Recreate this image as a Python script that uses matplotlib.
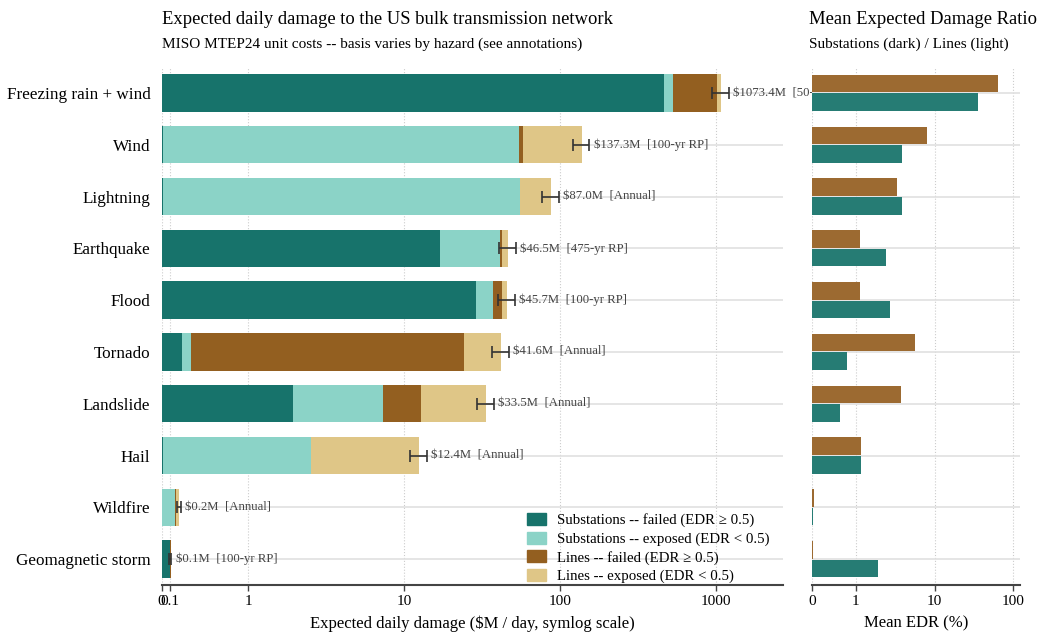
import matplotlib
matplotlib.use("Agg")
import matplotlib.pyplot as plt
from matplotlib.patches import Patch
import numpy as np

plt.rcParams['font.family'] = ['Liberation Serif', 'DejaVu Serif']

hazards = ["Freezing rain + wind", "Wind", "Lightning", "Earthquake", "Flood",
           "Tornado", "Landslide", "Hail", "Wildfire", "Geomagnetic storm"]

# $M / day, per component
sub_failed = [464.0, 0.01, 0.01, 16.9, 28.7, 0.23, 1.93, 0.01, 0.0, 0.10]
sub_exposed = [67.0, 54.3, 54.9, 24.1, 8.2, 0.11, 5.36, 2.51, 0.155, 0.0]
line_failed = [485.0, 3.1, 0.6, 1.7, 5.8, 23.9, 5.5, 0.0, 0.008, 0.002]
line_exposed = [57.4, 79.9, 31.5, 3.8, 3.0, 17.36, 20.71, 9.88, 0.037, 0.005]
totals = [1073.4, 137.3, 87.0, 46.5, 45.7, 41.6, 33.5, 12.4, 0.2, 0.1]
errors = [130, 17, 11, 5.8, 5.7, 5.2, 4.2, 1.55, 0.025, 0.013]
basis = ["50-yr RP", "100-yr RP", "Annual", "475-yr RP", "100-yr RP",
         "Annual", "Annual", "Annual", "Annual", "100-yr RP"]

# mean EDR (%)
edr_lines = [64.5, 8.1, 3.3, 1.14, 1.14, 5.6, 3.8, 1.17, 0.05, 0.015]
edr_subs = [36.0, 3.85, 3.85, 2.4, 2.7, 0.81, 0.63, 1.17, 0.02, 1.92]

c_sf = "#17736b"
c_se = "#8bd3c7"
c_lf = "#935f20"
c_le = "#dfc687"
labels = ["Substations -- failed (EDR \u2265 0.5)",
          "Substations -- exposed (EDR < 0.5)",
          "Lines -- failed (EDR \u2265 0.5)",
          "Lines -- exposed (EDR < 0.5)"]

fig = plt.figure(figsize=(10.43, 6.38), dpi=100)
ax = fig.add_axes([0.155, 0.083, 0.596, 0.812])
ax2 = fig.add_axes([0.7785, 0.083, 0.199, 0.812])

y = np.arange(len(hazards))
h = 0.72
left = np.zeros(len(hazards))
for vals, col in zip([sub_failed, sub_exposed, line_failed, line_exposed], [c_sf, c_se, c_lf, c_le]):
    ax.barh(y, vals, left=left, height=h, color=col, edgecolor='none', zorder=2)
    left = left + np.array(vals)

ax.errorbar(totals, y, xerr=errors, fmt='none', ecolor='#333333', elinewidth=1.2,
            capsize=4, capthick=1.2, zorder=3)
for i in range(len(hazards)):
    ax.annotate(f"${totals[i]:.1f}M  [{basis[i]}]", xy=(totals[i] + errors[i], y[i]),
                xytext=(3, 0), textcoords='offset points', va='center', ha='left',
                fontsize=9.2, color='#444444', zorder=4, annotation_clip=False)

ax.set_xscale('symlog', linthresh=1, linscale=0.5)
ax.set_xlim(0, 2700)
ax.set_ylim(9.5, -0.5)
ax.set_xticks([0, 0.1, 1, 10, 100, 1000])
ax.set_xticklabels(["0", "0.1", "1", "10", "100", "1000"])
ax.xaxis.set_minor_locator(matplotlib.ticker.NullLocator())
ax.set_yticks(y)
ax.set_yticklabels(hazards, fontsize=12.3)
ax.tick_params(axis='y', length=0, pad=8)
ax.tick_params(axis='x', labelsize=11, length=4, width=1, color='#444444')
ax.set_xlabel("Expected daily damage ($M / day, symlog scale)", fontsize=12, labelpad=5)
ax.xaxis.grid(True, linestyle=':', color='#cccccc', linewidth=0.8)
ax.yaxis.grid(True, linestyle='-', color='#e0e0e0', linewidth=1.2)
ax.set_axisbelow(True)
for s in ['top', 'right', 'left']:
    ax.spines[s].set_visible(False)
ax.spines['bottom'].set_color('#444444')
ax.spines['bottom'].set_linewidth(1.5)

handles = [Patch(color=c) for c in [c_sf, c_se, c_lf, c_le]]
ax.legend(handles, labels, loc='lower right', bbox_to_anchor=(0.987, -0.008), frameon=False,
          fontsize=10.7, handlelength=1.3, handleheight=0.9, labelspacing=0.28,
          handletextpad=0.7, borderaxespad=0.0)

# right panel
bh = 0.34
ax2.barh(y - 0.18, edr_lines, height=bh, color="#9c6a31", edgecolor='none', zorder=2)
ax2.barh(y + 0.18, edr_subs, height=bh, color="#267c74", edgecolor='none', zorder=2)
ax2.set_xscale('symlog', linthresh=1, linscale=0.5)
ax2.set_xlim(0, 120)
ax2.set_ylim(9.5, -0.5)
ax2.set_xticks([0, 1, 10, 100])
ax2.set_xticklabels(["0", "1", "10", "100"])
ax2.xaxis.set_minor_locator(matplotlib.ticker.NullLocator())
ax2.set_yticks(y)
ax2.set_yticklabels([])
ax2.tick_params(axis='y', length=0)
ax2.tick_params(axis='x', labelsize=11, length=4, width=1, color='#444444')
ax2.set_xlabel("Mean EDR (%)", fontsize=12, labelpad=5)
ax2.xaxis.grid(True, linestyle=':', color='#cccccc', linewidth=0.8)
ax2.yaxis.grid(True, linestyle='-', color='#e0e0e0', linewidth=1.2)
ax2.set_axisbelow(True)
for s in ['top', 'right', 'left']:
    ax2.spines[s].set_visible(False)
ax2.spines['bottom'].set_color('#444444')
ax2.spines['bottom'].set_linewidth(1.5)

fig.text(0.155, 1 - 19 / 638, "Expected daily damage to the US bulk transmission network",
         fontsize=13.4, va='center', ha='left')
fig.text(0.155, 1 - 44 / 638, "MISO MTEP24 unit costs -- basis varies by hazard (see annotations)",
         fontsize=11, va='center', ha='left')
fig.text(809 / 1043, 1 - 19 / 638, "Mean Expected Damage Ratio", fontsize=13.4, va='center', ha='left')
fig.text(809 / 1043, 1 - 44 / 638, "Substations (dark) / Lines (light)", fontsize=11, va='center', ha='left')

fig.savefig("out.png", dpi=100)
